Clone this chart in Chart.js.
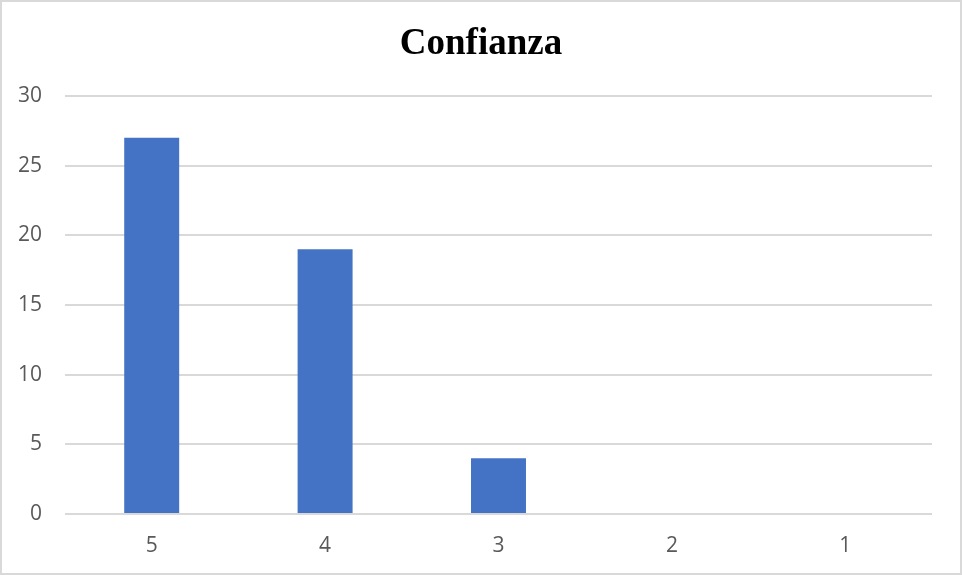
<!DOCTYPE html>
<html>
<head>
<meta charset="utf-8">
<script src="https://cdn.jsdelivr.net/npm/chart.js@4"></script>
<style>
  html, body { margin: 0; padding: 0; background: #ffffff; }
  #frame {
    position: relative;
    width: 962px; height: 575px;
    box-sizing: border-box;
    border: 2px solid #d9d9d9;
    background: #ffffff;
  }
  #chart { position: absolute; left: -2px; top: -2px; }
</style>
</head>
<body>
<div id="frame"><canvas id="chart" width="962" height="575"></canvas></div>
<script>
// Rating categories (5 = highest) and number of responses for each
const categories = ['5', '4', '3', '2', '1'];
const responses = [27, 19, 4, 0, 0];
const yTicks = [0, 5, 10, 15, 20, 25, 30];

const tickFont = { family: '"Open Sans", "Noto Sans", sans-serif', size: 21 };

new Chart(document.getElementById('chart'), {
  type: 'bar',
  data: {
    labels: categories,
    datasets: [{
      label: 'Confianza',
      data: responses,
      backgroundColor: '#4472C4',
      borderWidth: 0,
      categoryPercentage: 1,
      barPercentage: 0.317
    }]
  },
  options: {
    responsive: false,
    animation: false,
    layout: { padding: 0 },
    plugins: {
      legend: { display: false },
      tooltip: { enabled: false },
      title: {
        display: true,
        text: 'Confianza',
        color: '#000000',
        font: { family: '"Liberation Serif", "Times New Roman", serif', size: 37, weight: 'bold' },
        padding: { top: 22, bottom: 29.6 }
      }
    },
    scales: {
      x: {
        grid: { display: false, drawTicks: false },
        border: { display: false },
        ticks: { color: '#595959', font: tickFont, padding: 19 },
        afterFit: (s) => { s.height = 61; }
      },
      y: {
        min: 0,
        max: 30,
        afterBuildTicks: (s) => { s.ticks = yTicks.map(v => ({ value: v })); },
        grid: { color: '#d9d9d9', lineWidth: 2, drawTicks: false },
        border: { display: false },
        ticks: { color: '#595959', font: tickFont, padding: 23 },
        afterFit: (s) => { s.width = 65; }
      },
      // empty right-hand margin strip so the title stays centred on the canvas
      margin: {
        position: 'right',
        grid: { display: false, drawTicks: false },
        border: { display: false },
        ticks: { display: false },
        afterFit: (s) => { s.width = 30; }
      }
    }
  }
});
</script>
</body>
</html>
